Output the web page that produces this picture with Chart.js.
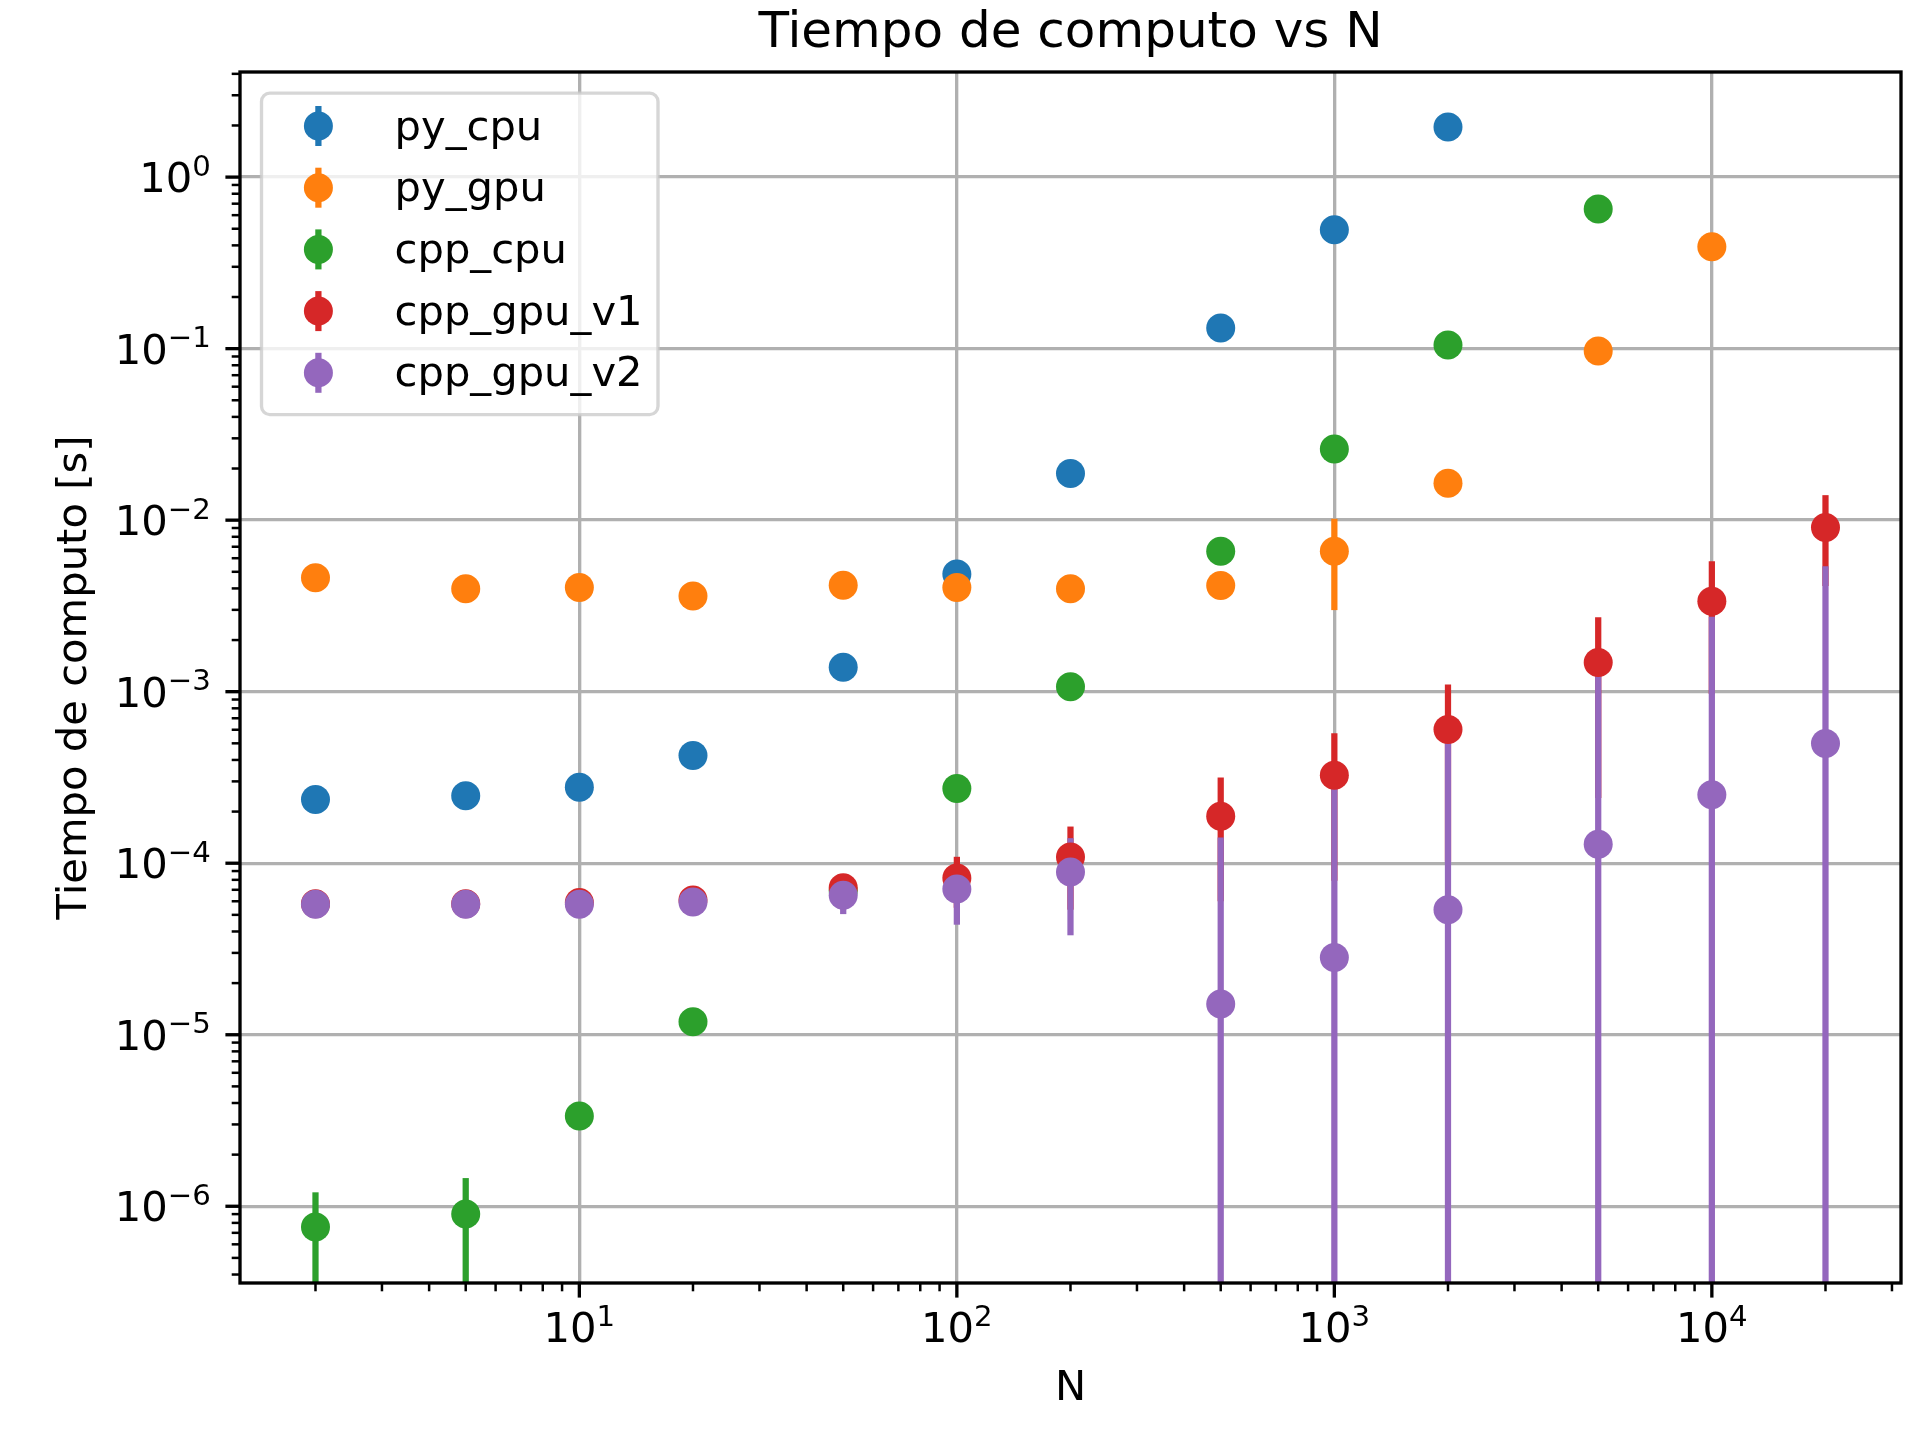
<!DOCTYPE html>
<html><head><meta charset="utf-8">
<script src="https://cdn.jsdelivr.net/npm/chart.js@4.4.1/dist/chart.umd.min.js"></script>
<style>html,body{margin:0;padding:0;background:#fff;}canvas{display:block;}</style>
</head><body>
<canvas id="c" width="1920" height="1440"></canvas>
<script>
// ---------- data ----------
const N = [2, 5, 10, 20, 50, 100, 200, 500, 1000, 2000, 5000, 10000, 20000];
const seriesNames = ['py_cpu', 'py_gpu', 'cpp_cpu', 'cpp_gpu_v1', 'cpp_gpu_v2'];
const seriesColors = ['#1f77b4', '#ff7f0e', '#2ca02c', '#d62728', '#9467bd'];

const pyCpu    = [2.35e-4, 2.47e-4, 2.77e-4, 4.25e-4, 1.39e-3, 4.85e-3, 1.87e-2, 0.132, 0.493, 1.96, null, null, null];
const pyCpuErr = [4e-6, 4e-6, 5e-6, 8e-6, 2e-5, 6e-5, 2e-4, 1.5e-3, 6e-3, 2e-2, null, null, null];

const pyGpu    = [4.62e-3, 3.98e-3, 4.05e-3, 3.61e-3, 4.18e-3, 4.05e-3, 3.98e-3, 4.16e-3, 6.59e-3, 1.64e-2, 9.68e-2, 0.392, null];
const pyGpuErr = [3e-4, 2e-4, 2e-4, 2e-4, 3e-4, 2e-4, 2e-4, 3e-4, 3.6e-3, 8e-4, 2e-3, 5e-3, null];

const cppCpu    = [7.56e-7, 9.0e-7, 3.36e-6, 1.19e-5, 6.9e-5, 2.73e-4, 1.07e-3, 6.59e-3, 2.6e-2, 0.105, 0.652, null, null];
const cppCpuErr = [4.5e-7, 5.6e-7, 1e-7, 3e-7, 2e-6, 5e-6, 2e-5, 1e-4, 4e-4, 1.5e-3, 8e-3, null, null];

const cppGpuV1    = [5.8e-5, 5.8e-5, 5.9e-5, 6.1e-5, 7.2e-5, 8.2e-5, 1.086e-4, 1.88e-4, 3.26e-4, 6.02e-4, 1.48e-3, 3.37e-3, 9.06e-3];
const cppGpuV1Err = [1e-6, 1e-6, 1.5e-6, 2e-6, 1.4e-5, 2.7e-5, 5.5e-5, 1.28e-4, 2.47e-4, 5.0e-4, 1.24e-3, 2.4e-3, 4.93e-3];

const cppGpuV2    = [5.77e-5, 5.77e-5, 5.77e-5, 5.94e-5, 6.5e-5, 7.08e-5, 8.9e-5, 1.51e-5, 2.82e-5, 5.35e-5, 1.29e-4, 2.51e-4, 4.99e-4];
const cppGpuV2Err = [1e-6, 1e-6, 1e-6, 2e-6, 1.45e-5, 2.7e-5, 5.1e-5, 1.26e-4, 2.47e-4, 4.9e-4, 1.24e-3, 2.48e-3, 4.89e-3];

const xTickExponents = [1, 2, 3, 4];
const yTickExponents = [-6, -5, -4, -3, -2, -1, 0];
const xLimits = [1.262, 31700];
const yLimits = [3.57e-7, 4.10];

const titleText = 'Tiempo de computo vs N';
const xLabel = 'N';
const yLabel = 'Tiempo de computo [s]';

// ---------- build ----------
const seriesValues = [pyCpu, pyGpu, cppCpu, cppGpuV1, cppGpuV2];
const seriesErrors = [pyCpuErr, pyGpuErr, cppCpuErr, cppGpuV1Err, cppGpuV2Err];

const FONT = 'DejaVu Sans';
Chart.defaults.font.family = FONT;
Chart.defaults.color = '#000';

function logTicks(min, max, majorExps) {
  const out = [];
  const e0 = Math.floor(Math.log10(min)), e1 = Math.floor(Math.log10(max));
  for (let e = e0; e <= e1; e++) {
    for (let k = 1; k <= 9; k++) {
      const v = Number((k * Math.pow(10, e)).toPrecision(12));
      if (v >= min && v <= max) out.push({ value: v, mj: (k === 1 && majorExps.includes(e)), major: k === 1 });
    }
  }
  return out;
}

const datasets = seriesNames.map((name, s) => ({
  label: name,
  order: -s, // later series drawn on top (like matplotlib)
  data: N.map((n, i) => ({ x: n, y: seriesValues[s][i], e: seriesErrors[s][i] })).filter(p => p.y != null),
  backgroundColor: seriesColors[s],
  borderColor: seriesColors[s],
  pointBackgroundColor: seriesColors[s],
  pointBorderWidth: 0,
  pointRadius: 14.5,
  pointHoverRadius: 14.5,
  showLine: false
}));

const gridColor = ctx => (ctx.tick && ctx.tick.mj) ? '#b0b0b0' : 'rgba(0,0,0,0)';

const errorBarPlugin = {
  id: 'errorBars',
  beforeDatasetsDraw(chart) {
    const { ctx, chartArea: a, scales: { x, y } } = chart;
    ctx.save();
    ctx.beginPath();
    ctx.rect(a.left, a.top, a.right - a.left, a.bottom - a.top);
    ctx.clip();
    ctx.lineWidth = 6.25;
    ctx.lineCap = 'butt';
    chart.data.datasets.forEach(ds => {
      ctx.strokeStyle = ds.borderColor;
      ds.data.forEach(p => {
        if (!p.e) return;
        const px = x.getPixelForValue(p.x);
        const hi = p.y + p.e, lo = p.y - p.e;
        const yTop = y.getPixelForValue(hi);
        const yBot = lo > 0 ? y.getPixelForValue(lo) : a.bottom + 20;
        ctx.beginPath();
        ctx.moveTo(px, yTop);
        ctx.lineTo(px, yBot);
        ctx.stroke();
      });
    });
    ctx.restore();
  }
};

function powLabelParts(exp) {
  return { base: '10', sup: exp < 0 ? '\u2212' + Math.abs(exp) : String(exp) };
}

function drawPow(ctx, exp, x, baseline, align) {
  const { base, sup } = powLabelParts(exp);
  ctx.font = '41.7px "' + FONT + '"';
  const wb = ctx.measureText(base).width;
  ctx.font = '29.2px "' + FONT + '"';
  const ws = ctx.measureText(sup).width;
  const total = wb + ws;
  const x0 = align === 'right' ? x - total : x - total / 2;
  ctx.textAlign = 'left';
  ctx.textBaseline = 'alphabetic';
  ctx.fillStyle = '#000';
  ctx.font = '41.7px "' + FONT + '"';
  ctx.fillText(base, x0, baseline);
  ctx.font = '29.2px "' + FONT + '"';
  ctx.fillText(sup, x0 + wb, baseline - 16.5);
}

const axesDecorPlugin = {
  id: 'axesDecor',
  afterDatasetsDraw(chart) {
    const { ctx, chartArea: a, scales: { x, y } } = chart;
    ctx.save();
    // spines
    ctx.strokeStyle = '#000';
    ctx.lineWidth = 3.33;
    ctx.strokeRect(a.left, a.top, a.right - a.left, a.bottom - a.top);
    // y ticks
    y.ticks.forEach(t => {
      const py = y.getPixelForValue(t.value);
      ctx.lineWidth = t.major ? 3.33 : 2.5;
      const len = t.major ? 14.6 : 8.3;
      ctx.beginPath(); ctx.moveTo(a.left, py); ctx.lineTo(a.left - len, py); ctx.stroke();
    });
    // x ticks
    x.ticks.forEach(t => {
      const px = x.getPixelForValue(t.value);
      ctx.lineWidth = t.major ? 3.33 : 2.5;
      const len = t.major ? 14.6 : 8.3;
      ctx.beginPath(); ctx.moveTo(px, a.bottom); ctx.lineTo(px, a.bottom + len); ctx.stroke();
    });
    // tick labels
    yTickExponents.forEach(e => {
      const py = y.getPixelForValue(Math.pow(10, e));
      drawPow(ctx, e, a.left - 29.2, py + 15, 'right');
    });
    xTickExponents.forEach(e => {
      const px = x.getPixelForValue(Math.pow(10, e));
      drawPow(ctx, e, px, a.bottom + 59.3, 'center');
    });
    ctx.restore();
  },
  afterDraw(chart) {
    const { ctx, chartArea: a } = chart;
    ctx.save();
    // title
    ctx.fillStyle = '#000';
    ctx.font = '50px "' + FONT + '"';
    ctx.textAlign = 'center';
    ctx.textBaseline = 'alphabetic';
    ctx.fillText(titleText, (a.left + a.right) / 2, a.top - 25);
    // legend
    const bx = a.left + 21.5, by = a.top + 21.2, bw = 396.5, bh = 321.4, r = 8.3;
    ctx.beginPath();
    ctx.moveTo(bx + r, by);
    ctx.lineTo(bx + bw - r, by);
    ctx.arcTo(bx + bw, by, bx + bw, by + r, r);
    ctx.lineTo(bx + bw, by + bh - r);
    ctx.arcTo(bx + bw, by + bh, bx + bw - r, by + bh, r);
    ctx.lineTo(bx + r, by + bh);
    ctx.arcTo(bx, by + bh, bx, by + bh - r, r);
    ctx.lineTo(bx, by + r);
    ctx.arcTo(bx, by, bx + r, by, r);
    ctx.closePath();
    ctx.fillStyle = 'rgba(255,255,255,0.8)';
    ctx.fill();
    ctx.strokeStyle = 'rgba(204,204,204,0.8)';
    ctx.lineWidth = 3.33;
    ctx.stroke();
    chart.data.datasets.forEach((ds, i) => {
      const cy = by + 32.8 + i * 61.7;
      const cx = bx + 56.9;
      ctx.strokeStyle = ds.borderColor;
      ctx.lineWidth = 6.25;
      ctx.beginPath(); ctx.moveTo(cx, cy - 20); ctx.lineTo(cx, cy + 20); ctx.stroke();
      ctx.fillStyle = ds.backgroundColor;
      ctx.beginPath(); ctx.arc(cx, cy, 14.5, 0, Math.PI * 2); ctx.fill();
      ctx.fillStyle = '#000';
      ctx.font = '41.7px "' + FONT + '"';
      ctx.textAlign = 'left';
      ctx.textBaseline = 'alphabetic';
      ctx.fillText(ds.label, bx + 133, cy + 13.5);
    });
    ctx.restore();
  }
};

new Chart(document.getElementById('c'), {
  type: 'scatter',
  data: { datasets },
  options: {
    responsive: false,
    animation: false,
    devicePixelRatio: 1,
    events: [],
    layout: { padding: { left: 0, right: 19, top: 72, bottom: 0 } },
    plugins: { legend: { display: false }, title: { display: false }, tooltip: { enabled: false } },
    scales: {
      x: {
        type: 'logarithmic',
        position: 'bottom',
        min: xLimits[0], max: xLimits[1],
        bounds: 'data',
        afterBuildTicks: s => { s.ticks = logTicks(s.min, s.max, xTickExponents); },
        afterFit: s => { s.height = 157; },
        ticks: { display: false },
        grid: { color: gridColor, lineWidth: 3.33, drawTicks: false },
        border: { display: false },
        title: { display: true, text: xLabel, color: '#000', font: { family: FONT, size: 41.7, lineHeight: 1.2 }, padding: { top: 0, bottom: 26 } }
      },
      y: {
        type: 'logarithmic',
        position: 'left',
        min: yLimits[0], max: yLimits[1],
        bounds: 'data',
        afterBuildTicks: s => { s.ticks = logTicks(s.min, s.max, yTickExponents); },
        afterFit: s => { s.width = 240; },
        ticks: { display: false },
        grid: { color: gridColor, lineWidth: 3.33, drawTicks: false },
        border: { display: false },
        title: { display: true, text: yLabel, color: '#000', font: { family: FONT, size: 41.7, lineHeight: 1.2 }, padding: { top: 50, bottom: 0 } }
      }
    }
  },
  plugins: [errorBarPlugin, axesDecorPlugin]
});
</script>
</body></html>
